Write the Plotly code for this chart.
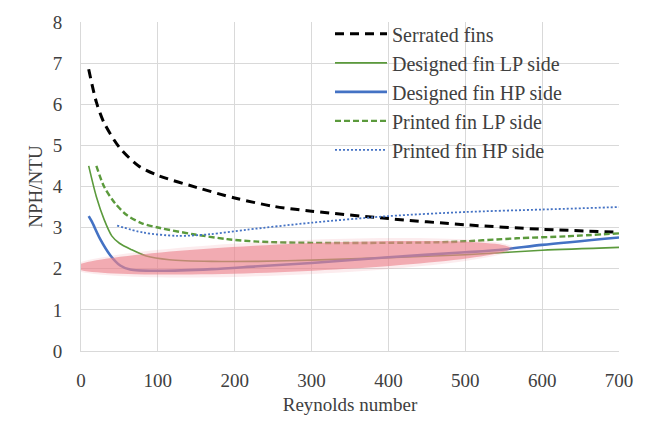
import numpy as np
import plotly.graph_objects as go

# ---- data ----
serr_x = [10, 20, 30, 50, 75, 100, 150, 200, 250, 300, 400, 500, 600, 700]
serr_y = [6.85, 6.05, 5.55, 4.95, 4.5, 4.27, 3.98, 3.72, 3.52, 3.40, 3.22, 3.07, 2.96, 2.89]

dlp_x = [10, 20, 30, 40, 50, 65, 85, 115, 170, 230, 300, 400, 500, 600, 700]
dlp_y = [4.5, 3.75, 3.2, 2.8, 2.62, 2.47, 2.31, 2.22, 2.18, 2.18, 2.21, 2.27, 2.34, 2.45, 2.52]

dhp_x = [10, 14, 25, 38, 51, 64, 100, 170, 230, 300, 400, 500, 550, 600, 700]
dhp_y = [3.28, 3.15, 2.72, 2.33, 2.08, 1.98, 1.95, 1.99, 2.06, 2.14, 2.28, 2.40, 2.47, 2.58, 2.76]

plp_x = [20, 30, 44, 60, 80, 103, 146, 190, 230, 300, 400, 480, 567, 632, 700]
plp_y = [4.5, 4.0, 3.6, 3.3, 3.1, 2.99, 2.84, 2.72, 2.66, 2.63, 2.63, 2.65, 2.74, 2.79, 2.86]

php_x = [47, 81, 125, 168, 216, 300, 400, 500, 600, 700]
php_y = [3.05, 2.88, 2.80, 2.84, 2.95, 3.12, 3.28, 3.38, 3.44, 3.50]

names = ["Serrated fins", "Designed fin LP side", "Designed fin HP side",
         "Printed fin LP side", "Printed fin HP side"]

x_ticks = [0, 100, 200, 300, 400, 500, 600, 700]
y_ticks = [0, 1, 2, 3, 4, 5, 6, 7, 8]

FONT = "'Liberation Serif', 'Times New Roman', 'DejaVu Serif', serif"
TXT = "#404040"
GRID = "#d9d9d9"

fig = go.Figure()
styles = [
    dict(color="black", width=3, dash="9px,6px"),
    dict(color="#5b9a3c", width=1.6),
    dict(color="#4472c4", width=2.6),
    dict(color="#5b9a3c", width=2.4, dash="6px,3px"),
    dict(color="#4472c4", width=1.8, dash="2px,2px"),
]
for (xs, ys), nm, st in zip([(serr_x, serr_y), (dlp_x, dlp_y), (dhp_x, dhp_y),
                              (plp_x, plp_y), (php_x, php_y)], names, styles):
    fig.add_trace(go.Scatter(x=xs, y=ys, mode="lines", name=nm,
                             line=dict(shape="spline", smoothing=0.8, **st)))

# highlight ellipse: built in pixel space, converted into data units
x_per_px = 700 / 538
y_per_px = 8 / 344


def ellipse_path(b_px, a_px=217.7, ang=-0.0459):
    cx_px = 292.5 - 81
    cy_px = 357 - 259.5
    t = np.linspace(0, 2 * np.pi, 120)
    ex = a_px * np.cos(t)
    ey = b_px * np.sin(t)
    px = cx_px + ex * np.cos(ang) + ey * np.sin(ang)
    py = cy_px - ex * np.sin(ang) + ey * np.cos(ang)
    pts = [f"{px_ * x_per_px:.2f},{py_ * y_per_px:.3f}" for px_, py_ in zip(px, py)]
    return "M" + " L".join(pts) + " Z"


fig.add_shape(type="path", path=ellipse_path(18, 221), xref="x", yref="y",
              fillcolor="rgb(236,130,140)", opacity=0.15, line=dict(width=0), layer="above")
fig.add_shape(type="path", path=ellipse_path(14.5), xref="x", yref="y",
              fillcolor="rgb(236,130,140)", opacity=0.62, line=dict(width=0), layer="above")

# white area behind legend (hides the gridlines there)
fig.add_shape(type="rect", xref="paper", yref="paper",
              x0=(293 - 81) / 538, x1=(615 - 81) / 538,
              y0=(357 - 163) / 344, y1=(357 - 20) / 344,
              fillcolor="white", line=dict(width=0), layer="between")

fig.update_layout(
    width=647, height=423,
    margin=dict(l=81, r=28, t=13, b=66),
    paper_bgcolor="white", plot_bgcolor="white",
    font=dict(family=FONT, color=TXT, size=19),
    showlegend=True,
    legend=dict(x=(330 - 81) / 538, y=(357 - 5) / 344, xanchor="left", yanchor="top",
                bgcolor="rgba(0,0,0,0)", font=dict(size=20, family=FONT, color=TXT),
                tracegroupgap=0, itemwidth=52),
    xaxis=dict(range=[0, 700], tickvals=x_ticks, showgrid=True, gridcolor=GRID,
               showline=True, linecolor=GRID, zeroline=False, ticks="",
               ticklabelstandoff=12, tickfont=dict(family=FONT, size=19),
               title=dict(text="Reynolds number", font=dict(size=19, family=FONT), standoff=7)),
    yaxis=dict(range=[0, 8], tickvals=y_ticks, showgrid=True, gridcolor=GRID,
               showline=True, linecolor=GRID, zeroline=False, ticks="",
               ticklabelstandoff=14, tickfont=dict(family=FONT, size=19),
               title=dict(text="NPH/NTU", font=dict(size=19, family=FONT), standoff=5)),
)

fig.write_html("out.html")
